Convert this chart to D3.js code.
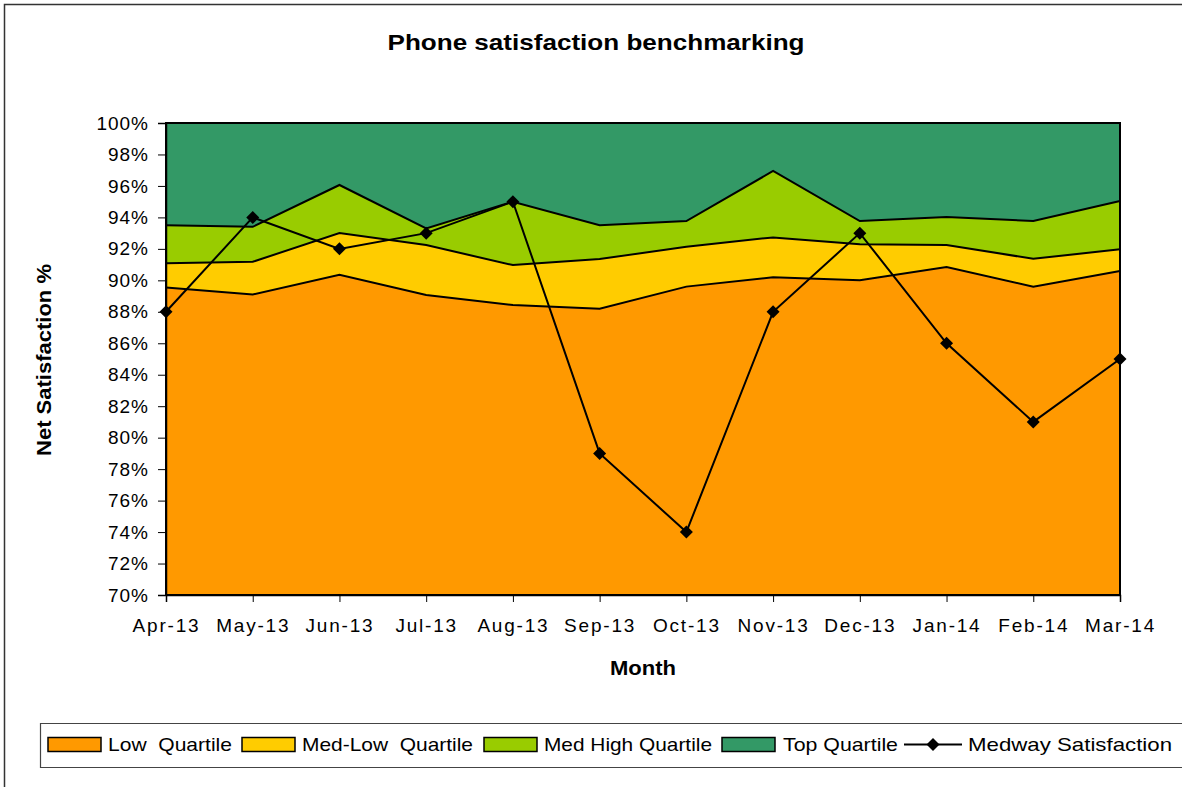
<!DOCTYPE html>
<html><head><meta charset="utf-8">
<script src="https://cdn.jsdelivr.net/npm/d3@7"></script>
<style>
body{margin:0;background:#fff;}
svg{display:block;font-family:"Liberation Sans",Arial,sans-serif;}
</style></head>
<body>
<svg id="chart" width="1182" height="787"></svg>
<script>
const months = ["Apr-13","May-13","Jun-13","Jul-13","Aug-13","Sep-13","Oct-13","Nov-13","Dec-13","Jan-14","Feb-14","Mar-14"];
const lowQuartile     = [89.55, 89.1, 90.36, 89.07, 88.43, 88.2, 89.6, 90.19, 90.0, 90.85, 89.6, 90.6];
const medLowQuartile  = [91.08, 91.18, 93.0, 92.24, 90.97, 91.35, 92.14, 92.73, 92.29, 92.24, 91.37, 91.97];
const medHighQuartile = [93.5, 93.4, 96.06, 93.3, 95.0, 93.5, 93.77, 96.95, 93.77, 94.02, 93.77, 95.04];
const topQuartile     = [100,100,100,100,100,100,100,100,100,100,100,100];
const medwaySatisfaction = [88, 94, 92, 93, 95, 79, 74, 88, 93, 86, 81, 85];
const yTicks = [70,72,74,76,78,80,82,84,86,88,90,92,94,96,98,100];

const svg = d3.select("#chart");
const L = 166, R = 1120, T = 123, B = 595;
const x = d3.scalePoint().domain(months).range([L, R]);
const y = d3.scaleLinear().domain([70, 100]).range([B, T]);

// outer frame
svg.append("path").attr("d","M4.5,787 L4.5,4.5 L1182,4.5").attr("fill","none").attr("stroke","#333").attr("stroke-width",1.5);

// title
svg.append("text").attr("x",596).attr("y",50).attr("text-anchor","middle")
  .attr("font-size",22).attr("font-weight","bold")
  .attr("textLength",417).attr("lengthAdjust","spacingAndGlyphs").text("Phone satisfaction benchmarking");

const bands = [
  {name:"Low Quartile", lo: months.map(()=>70), hi: lowQuartile, color:"#FF9900"},
  {name:"Med-Low Quartile", lo: lowQuartile, hi: medLowQuartile, color:"#FFCC00"},
  {name:"Med High Quartile", lo: medLowQuartile, hi: medHighQuartile, color:"#99CC00"},
  {name:"Top Quartile", lo: medHighQuartile, hi: topQuartile, color:"#339966"}
];
const area = d3.area().x(d=>x(d.m)).y0(d=>y(d.lo)).y1(d=>y(d.hi));
bands.forEach(b=>{
  const data = months.map((m,i)=>({m, lo:b.lo[i], hi:b.hi[i]}));
  svg.append("path").datum(data).attr("d",area).attr("fill",b.color).attr("stroke","none");
});
const line = d3.line().x(d=>x(d.m)).y(d=>y(d.v));
[lowQuartile, medLowQuartile, medHighQuartile].forEach(arr=>{
  svg.append("path").datum(months.map((m,i)=>({m, v:arr[i]}))).attr("d",line)
    .attr("fill","none").attr("stroke","#000").attr("stroke-width",2);
});

// plot border
svg.append("rect").attr("x",L).attr("y",T).attr("width",R-L).attr("height",B-T)
  .attr("fill","none").attr("stroke","#000").attr("stroke-width",2);

// axes
const yAxis = d3.axisLeft(y).tickValues(yTicks).tickFormat(d=>d+"%").tickSize(8).tickPadding(9);
const gy = svg.append("g").attr("transform",`translate(${L},0)`).call(yAxis);
gy.select(".domain").attr("stroke","#000").attr("stroke-width",1.5);
gy.selectAll(".tick line").attr("stroke","#000");
gy.selectAll("text").attr("font-size",19).attr("letter-spacing","1px").attr("font-family","Liberation Sans, Arial, sans-serif").attr("fill","#000");

const xAxis = d3.axisBottom(x).tickSize(7).tickPadding(17);
const gx = svg.append("g").attr("transform",`translate(0,${B})`).call(xAxis);
gx.select(".domain").attr("stroke","#000").attr("stroke-width",1.5);
gx.selectAll(".tick line").attr("stroke","#000");
gx.selectAll("text").attr("font-size",19).attr("letter-spacing","1.8px").attr("font-family","Liberation Sans, Arial, sans-serif").attr("fill","#000");

// axis titles
svg.append("text").attr("x",643).attr("y",675).attr("text-anchor","middle")
  .attr("font-size",20).attr("font-weight","bold")
  .attr("textLength",66).attr("lengthAdjust","spacingAndGlyphs").text("Month");
svg.append("text").attr("transform","translate(51,360) rotate(-90)").attr("text-anchor","middle")
  .attr("font-size",21).attr("font-weight","bold")
  .attr("textLength",192).attr("lengthAdjust","spacingAndGlyphs").text("Net Satisfaction %");

// Medway line
const mdata = months.map((m,i)=>({m, v:medwaySatisfaction[i]}));
svg.append("path").datum(mdata).attr("d",line).attr("fill","none").attr("stroke","#000").attr("stroke-width",2);
const diamond = "M0,-6.5L6.5,0L0,6.5L-6.5,0Z";
svg.selectAll(".mk").data(mdata).join("path").attr("class","mk")
  .attr("d",diamond).attr("transform",d=>`translate(${x(d.m)},${y(d.v)})`).attr("fill","#000");

// legend
svg.append("path").attr("d","M1182,723.5 L40.5,723.5 L40.5,767.5 L1182,767.5").attr("fill","none").attr("stroke","#444").attr("stroke-width",1.2);
const legendItems = [
  {name:"Low  Quartile", color:"#FF9900", bx:48, tx:108, tw:124},
  {name:"Med-Low  Quartile", color:"#FFCC00", bx:242, tx:302, tw:171},
  {name:"Med High Quartile", color:"#99CC00", bx:484, tx:544, tw:168},
  {name:"Top Quartile", color:"#339966", bx:722, tx:783, tw:115}
];
legendItems.forEach(it=>{
  svg.append("rect").attr("x",it.bx).attr("y",737.5).attr("width",53).attr("height",14)
    .attr("fill",it.color).attr("stroke","#000").attr("stroke-width",1.5);
  svg.append("text").attr("x",it.tx).attr("y",751).attr("font-size",19).attr("xml:space","preserve")
    .attr("textLength",it.tw).attr("lengthAdjust","spacingAndGlyphs").text(it.name);
});
svg.append("line").attr("x1",904).attr("x2",962).attr("y1",744.5).attr("y2",744.5).attr("stroke","#000").attr("stroke-width",2);
svg.append("path").attr("d",diamond).attr("transform","translate(933,744.5)").attr("fill","#000");
svg.append("text").attr("x",968).attr("y",751).attr("font-size",19)
  .attr("textLength",204).attr("lengthAdjust","spacingAndGlyphs").text("Medway Satisfaction");
</script>
</body></html>
